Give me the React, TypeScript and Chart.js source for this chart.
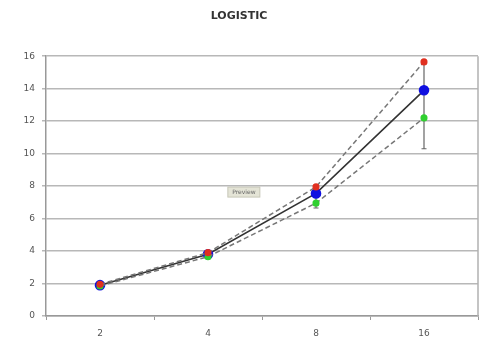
import React, { useEffect, useRef } from "react";
import { Chart, registerables } from "chart.js";

Chart.register(...registerables);

const categories = ["2", "4", "8", "16"];
const meanSeries = [1.9, 3.8, 7.55, 13.9];
const upperSeries = [1.95, 3.9, 7.95, 15.65];
const lowerSeries = [1.85, 3.65, 6.95, 12.2];
const errLow = [1.85, 3.65, 6.65, 10.3];
const errHigh = [1.95, 3.9, 7.95, 15.65];
const yTicks = [0, 2, 4, 6, 8, 10, 12, 14, 16];

const extrasPlugin = {
  id: "extras",
  beforeDatasetsDraw(chart: any) {
    const { ctx, chartArea, scales } = chart;
    const x = scales.x;
    const y = scales.y;
    ctx.save();
    // right border
    ctx.strokeStyle = "#b0b0b0";
    ctx.lineWidth = 1.5;
    ctx.beginPath();
    ctx.moveTo(chartArea.right, chartArea.top);
    ctx.lineTo(chartArea.right, chartArea.bottom);
    ctx.stroke();
    // error bars
    ctx.strokeStyle = "#666";
    ctx.lineWidth = 1.2;
    for (let i = 0; i < categories.length; i++) {
      const px = x.getPixelForValue(i);
      const y1 = y.getPixelForValue(errLow[i]);
      const y2 = y.getPixelForValue(errHigh[i]);
      ctx.beginPath();
      ctx.moveTo(px, y1);
      ctx.lineTo(px, y2);
      ctx.moveTo(px - 2.5, y1);
      ctx.lineTo(px + 2.5, y1);
      ctx.moveTo(px - 2.5, y2);
      ctx.lineTo(px + 2.5, y2);
      ctx.stroke();
    }
    // preview label
    const cx = chartArea.left + chartArea.width * 0.458;
    const cy = chartArea.top + chartArea.height * 0.523;
    ctx.fillStyle = "#e4e4d6";
    ctx.strokeStyle = "#c8c8b8";
    ctx.lineWidth = 1;
    ctx.fillRect(cx - 16, cy - 5, 32, 10);
    ctx.strokeRect(cx - 16, cy - 5, 32, 10);
    ctx.fillStyle = "#666";
    ctx.font = "6px 'DejaVu Sans', sans-serif";
    ctx.textAlign = "center";
    ctx.textBaseline = "middle";
    ctx.fillText("Preview", cx, cy);
    ctx.restore();
  },
};

export default function App() {
  const ref = useRef<HTMLCanvasElement>(null);
  useEffect(() => {
    const chart = new Chart(ref.current!, {
      type: "line",
      data: {
        labels: categories,
        datasets: [
          {
            data: meanSeries,
            borderColor: "#333",
            borderWidth: 1.6,
            pointBackgroundColor: "#1010e0",
            pointBorderColor: "#1010e0",
            pointRadius: 4.5,
            tension: 0,
            order: 1,
          },
          {
            data: upperSeries,
            borderColor: "#777",
            borderWidth: 1.5,
            borderDash: [5, 3],
            pointBackgroundColor: "#e03020",
            pointBorderColor: "#e03020",
            pointRadius: 2.8,
            tension: 0,
            order: 0,
          },
          {
            data: lowerSeries,
            borderColor: "#777",
            borderWidth: 1.5,
            borderDash: [5, 3],
            pointBackgroundColor: "#30d030",
            pointBorderColor: "#30d030",
            pointRadius: 2.8,
            tension: 0,
            order: 0,
          },
        ],
      },
      options: {
        animation: false,
        responsive: false,
        layout: { padding: { left: 0, right: 8, top: 0, bottom: 0 } },
        plugins: {
          legend: { display: false },
          tooltip: { enabled: false },
          title: {
            display: true,
            text: "LOGISTIC",
            color: "#333",
            font: { size: 11, weight: "bold", family: "'DejaVu Sans', sans-serif" },
            padding: { top: 10, bottom: 33 },
          },
        },
        scales: {
          x: {
            offset: true,
            grid: {
              offset: true,
              drawOnChartArea: false,
              drawTicks: true,
              tickLength: 4,
              color: "#999",
            },
            border: { color: "#999", width: 1.5 },
            ticks: {
              color: "#555",
              padding: 8,
              font: { size: 9, family: "'DejaVu Sans', sans-serif" },
            },
            afterFit(s: any) {
              s.height = 39;
            },
          },
          y: {
            min: 0,
            max: 16,
            afterBuildTicks(s: any) {
              s.ticks = yTicks.map((v) => ({ value: v }));
            },
            grid: { color: "#b8b8b8", lineWidth: 1.5, tickLength: 4 },
            border: { color: "#999", width: 1.5 },
            ticks: {
              color: "#555",
              padding: 7,
              font: { size: 9, family: "'DejaVu Sans', sans-serif" },
            },
            afterFit(s: any) {
              s.width = 46;
            },
          },
        },
      },
      plugins: [extrasPlugin],
    });
    return () => chart.destroy();
  }, []);
  return (
    <div style={{ position: "fixed", left: 0, top: 0, width: 486, height: 355, background: "#fff" }}>
      <canvas ref={ref} width={486} height={355} />
    </div>
  );
}
